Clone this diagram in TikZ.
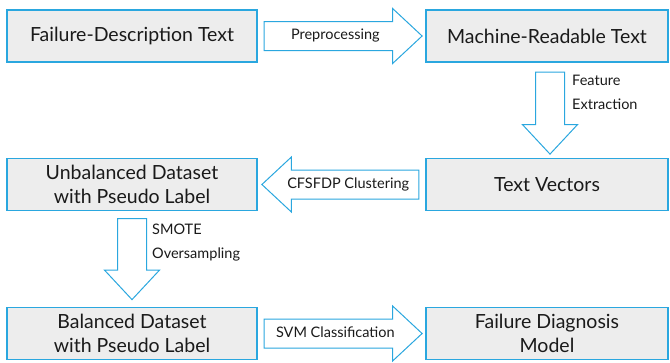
\documentclass[tikz,border=0pt]{standalone}
\usepackage{fontspec}
\setmainfont{Lato}
\usepackage{xcolor}
\usetikzlibrary{shapes.arrows, positioning, calc}
\definecolor{fblue}{HTML}{2AA7DF}
\definecolor{fgray}{HTML}{EDEDED}
\definecolor{ftext}{HTML}{1A1A1A}
\tikzset{
  stagebox/.style={draw=fblue, fill=fgray, line width=1.2pt, text=ftext,
                   font=\fontsize{19.5}{24.5}\selectfont, align=center,
                   minimum width=250pt, minimum height=52pt, inner sep=0pt},
  flowarrow/.style={single arrow, draw=fblue, fill=white, line width=1pt, text=ftext,
                    font=\fontsize{14.5}{17}\selectfont, single arrow head extend=13pt,
                    single arrow tip angle=86, text height=10pt, text depth=3pt,
                    inner xsep=4pt, inner ysep=7.5pt},
  downarrow/.style={flowarrow, shape border rotate=270, text height=0pt,
                    text depth=0pt, inner sep=14pt},
  steplabel/.style={text=ftext, font=\fontsize{14.5}{24}\selectfont,
                    align=left, inner sep=0pt},
}

\begin{document}
\begin{tikzpicture}[x=1pt, y=-1pt]
  \useasboundingbox (0,0) rectangle (670,362);

  %% stages
  \node[stagebox] (fdt) at (132,36) {Failure-Description Text};
  \node[stagebox, minimum width=242pt] (mrt) at (547,36) {Machine-Readable Text};
  \node[stagebox, minimum width=242pt] (tv) at (547,184.5) {Text Vectors};
  \node[stagebox] (ud) at (132,184.5) {Unbalanced Dataset\\with Pseudo Label};
  \node[stagebox] (bd) at (132,333.5) {Balanced Dataset\\with Pseudo Label};
  \node[stagebox, minimum width=242pt] (fdm) at (547,333.5) {Failure Diagnosis\\Model};

  %% block arrows between stages
  \node[flowarrow, minimum height=158pt, anchor=tail] (pre) at ($(fdt.east)+(6,0)$) {Preprocessing};
  \node[downarrow, minimum height=82pt, anchor=tail] (fe) at ($(mrt.south)+(3,9)$) {};
  \node[steplabel, anchor=north west] (fel) at ($(fe.tail)+(22,3)$) {Feature\\Extraction};
  \node[flowarrow, shape border rotate=180, minimum height=157pt, anchor=tail] (cl) at ($(tv.west)+(-6,0)$) {CFSFDP Clustering};
  \node[downarrow, minimum height=81pt, anchor=tail] (sm) at ($(ud.south)+(0,7)$) {};
  \node[steplabel, anchor=north west] (sml) at ($(sm.tail)+(20,6)$) {SMOTE\\Oversampling};
  \node[flowarrow, minimum height=158pt, anchor=tail] (svm) at ($(bd.east)+(6,0)$) {SVM Classification};

\end{tikzpicture}
\end{document}
